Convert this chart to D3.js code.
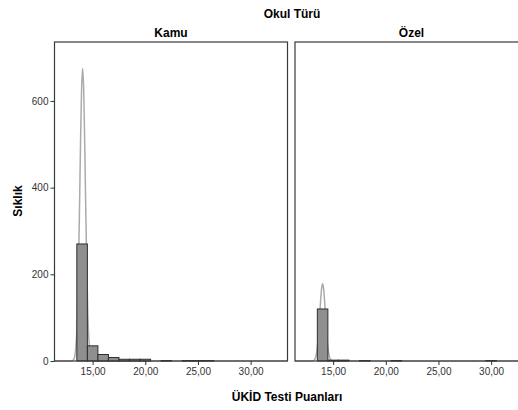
<!DOCTYPE html>
<html lang="tr">
<head>
<meta charset="utf-8">
<title>Okul Türü histogram</title>
<script src="https://d3js.org/d3.v7.min.js"></script>
<style>
body { margin: 0; background: #fff; }
text { font-family: "Liberation Sans", Arial, sans-serif; }
.title { font-size: 12px; font-weight: bold; fill: #000; }
.tick text { font-size: 10px; fill: #333; }
.tick line { stroke: #333; }
.frame { fill: none; stroke: #3a3a3a; stroke-width: 1.2; }
.bar { fill: #8f8f8f; stroke: #2e2e2e; stroke-width: 1; }
.fit { fill: none; stroke: #ababab; stroke-width: 1.5; }
</style>
</head>
<body>
<div id="chart"></div>
<script>
var w = 518, h = 410;

// panels
var groups = ["Kamu", "Özel"];

// histogram bins (bin centre, width 1) and counts
var kamuBins   = [14, 15, 16, 17, 18, 19, 20, 22, 24, 25, 26];
var kamuCounts = [270, 35, 15, 8, 4, 4, 4, 1, 1, 1, 1];
var ozelBins   = [14, 15, 16, 18, 21, 30];
var ozelCounts = [120, 2, 2, 1, 1, 1];

// fitted normal curve
var kamuCurveX = [11.4, 12.9, 13.15, 13.25, 13.35, 13.45, 13.55, 13.65, 13.75, 13.85, 13.95, 14.05,
                  14.15, 14.25, 14.35, 14.45, 14.55, 14.65, 14.75, 14.85, 14.95, 15.2, 33.5];
var kamuCurveY = [0, 0, 1.7, 6, 18, 47, 106, 207, 347, 502, 627, 675,
                  627, 502, 347, 207, 106, 47, 18, 6, 1.7, 0, 0];
var ozelCurveX = [11.4, 12.9, 13.1, 13.2, 13.3, 13.4, 13.5, 13.6, 13.7, 13.8, 13.9, 14.0,
                  14.1, 14.2, 14.3, 14.4, 14.5, 14.6, 14.7, 14.8, 14.9, 15.1, 33.5];
var ozelCurveY = [0, 0, 0.7, 2.2, 6, 15, 32, 59, 96, 135, 166, 178,
                  166, 135, 96, 59, 32, 15, 6, 2.2, 0.7, 0, 0];

var xTicks = [15, 20, 25, 30];
var yTicks = [0, 200, 400, 600];

var svg = d3.select("#chart").append("svg")
    .attr("width", w).attr("height", h);

var plotTop = 42, plotBottom = 361;
var panelLeft = [54.5, 295];
var panelW = 233;

var y = d3.scaleLinear().domain([0, 736]).range([plotBottom, plotTop]);

var panels = [
  { name: groups[0], bins: kamuBins, counts: kamuCounts, cx: kamuCurveX, cy: kamuCurveY },
  { name: groups[1], bins: ozelBins, counts: ozelCounts, cx: ozelCurveX, cy: ozelCurveY }
];

var fmt = function(d) { return d3.format(".2f")(d).replace(".", ","); };

panels.forEach(function(p, i) {
  var x0 = panelLeft[i];
  var x = d3.scaleLinear().domain([11.38, 33.5]).range([x0, x0 + panelW]);
  var g = svg.append("g");

  // fit line (behind the bars)
  var line = d3.line()
      .x(function(d) { return x(d[0]); })
      .y(function(d) { return y(d[1]); })
      .curve(d3.curveMonotoneX);
  var pts = p.cx.map(function(v, k) { return [v, p.cy[k]]; });
  g.append("path").datum(pts).attr("class", "fit").attr("d", line);

  // bars
  g.selectAll("rect.bar")
    .data(p.bins.map(function(b, k) { return { b: b, n: p.counts[k] }; }))
    .enter().append("rect")
    .attr("class", "bar")
    .attr("x", function(d) { return x(d.b - 0.5); })
    .attr("width", function(d) { return x(d.b + 0.5) - x(d.b - 0.5); })
    .attr("y", function(d) { return y(d.n); })
    .attr("height", function(d) { return y(0) - y(d.n); });

  // frame
  g.append("rect").attr("class", "frame")
    .attr("x", x0).attr("y", plotTop)
    .attr("width", panelW).attr("height", plotBottom - plotTop);

  // x axis
  var xa = g.append("g").attr("transform", "translate(0," + plotBottom + ")")
    .call(d3.axisBottom(x).tickValues(xTicks).tickSize(4).tickPadding(3).tickFormat(fmt));
  xa.select(".domain").remove();

  // panel title
  g.append("text").attr("class", "title")
    .attr("x", x0 + panelW / 2).attr("y", 37)
    .attr("text-anchor", "middle").text(p.name);

  if (i === 0) {
    var ya = g.append("g").attr("transform", "translate(" + x0 + ",0)")
      .call(d3.axisLeft(y).tickValues(yTicks).tickSize(4).tickPadding(2).tickFormat(d3.format("d")));
    ya.select(".domain").remove();
  }
});

svg.append("text").attr("class", "title")
  .attr("x", 292).attr("y", 18).attr("text-anchor", "middle").text("Okul Türü");

svg.append("text").attr("class", "title")
  .attr("x", 287).attr("y", 401).attr("text-anchor", "middle").text("ÜKİD Testi Puanları");

svg.append("text").attr("class", "title")
  .attr("transform", "translate(22,201) rotate(-90)")
  .attr("text-anchor", "middle").text("Sıklık");
</script>
</body>
</html>
